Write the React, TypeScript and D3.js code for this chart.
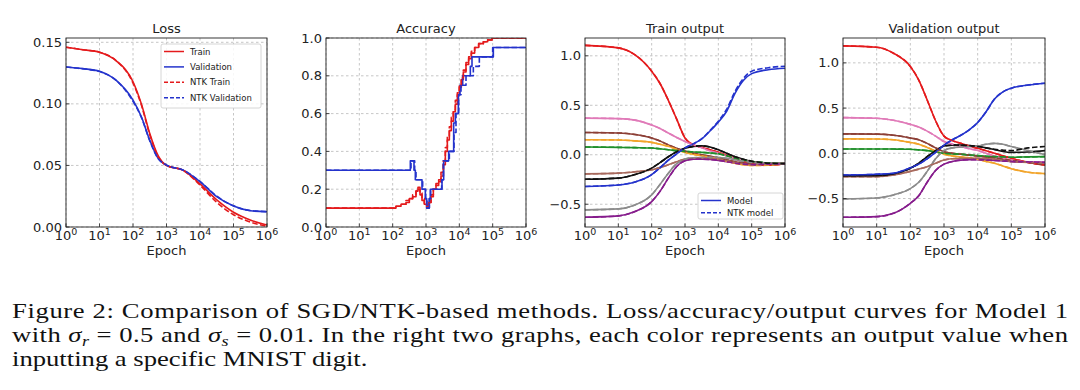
import React from "react";
import * as d3 from "d3";

const W = 1080;
const H = 390;
const SANS = "'DejaVu Sans', sans-serif";
const SERIF = "'Liberation Serif', 'DejaVu Serif', serif";

// ---- Loss panel (epochs as log10 exponents) ----
const lossExp = [0, 0.5, 1, 1.5, 2, 2.25, 2.5, 2.75, 3, 3.5, 4, 4.5, 5, 5.5, 6];
const lossTrain = [0.146, 0.144, 0.142, 0.135, 0.118, 0.1, 0.076, 0.058, 0.05, 0.046, 0.035, 0.022, 0.012, 0.0057, 0.0016];
const lossVal = [0.13, 0.1286, 0.1265, 0.119, 0.103, 0.0895, 0.0705, 0.0557, 0.0503, 0.0462, 0.0368, 0.0246, 0.017, 0.0132, 0.0124];
const lossNtkTrain = [0.146, 0.144, 0.142, 0.135, 0.117, 0.099, 0.075, 0.057, 0.05, 0.046, 0.034, 0.02, 0.01, 0.004, 0.0005];
const lossNtkVal = [0.13, 0.1285, 0.1262, 0.119, 0.102, 0.089, 0.07, 0.0555, 0.0503, 0.0462, 0.037, 0.025, 0.0172, 0.0134, 0.0125];
const lossLegend = ["Train", "Validation", "NTK Train", "NTK Validation"];

// ---- Accuracy panel (step curves) ----
const accTrainExp = [0, 2, 2.1, 2.25, 2.4, 2.5, 2.6, 2.7, 2.76, 2.82, 2.88, 2.95, 3.02, 3.08, 3.15, 3.22, 3.3, 3.38, 3.45, 3.52, 3.58, 3.64, 3.7, 3.76, 3.82, 3.88, 3.94, 4, 4.06, 4.12, 4.2, 4.28, 4.36, 4.46, 4.58, 4.72, 4.85, 4.98, 6];
const accTrain = [0.1, 0.1, 0.11, 0.12, 0.13, 0.15, 0.16, 0.19, 0.21, 0.17, 0.14, 0.12, 0.1, 0.13, 0.17, 0.2, 0.22, 0.24, 0.27, 0.33, 0.4, 0.46, 0.51, 0.56, 0.61, 0.65, 0.7, 0.74, 0.78, 0.82, 0.86, 0.89, 0.92, 0.95, 0.97, 0.98, 0.99, 1.0, 1.0];
const accNtkTrain = [0.1, 0.1, 0.11, 0.12, 0.14, 0.15, 0.17, 0.19, 0.2, 0.18, 0.15, 0.12, 0.11, 0.13, 0.16, 0.2, 0.23, 0.25, 0.29, 0.35, 0.42, 0.48, 0.53, 0.58, 0.62, 0.67, 0.71, 0.75, 0.79, 0.83, 0.87, 0.9, 0.93, 0.95, 0.97, 0.98, 0.99, 1.0, 1.0];
const accValExp = [0, 2.53, 2.64, 2.68, 2.88, 2.98, 3.02, 3.1, 3.13, 3.48, 3.53, 3.68, 3.83, 3.88, 3.97, 4.02, 4.1, 4.33, 4.38, 5.02, 6];
const accVal = [0.3, 0.35, 0.3, 0.25, 0.2, 0.15, 0.1, 0.15, 0.2, 0.25, 0.35, 0.4, 0.55, 0.6, 0.7, 0.75, 0.8, 0.85, 0.9, 0.95, 0.95];
const accNtkValExp = [0, 2.55, 2.66, 2.7, 2.9, 2.99, 3.03, 3.1, 3.14, 3.47, 3.52, 3.7, 3.84, 3.9, 3.98, 4.05, 4.2, 4.42, 4.6, 5.0, 6];
const accNtkVal = [0.3, 0.35, 0.3, 0.25, 0.2, 0.15, 0.1, 0.15, 0.2, 0.25, 0.35, 0.4, 0.5, 0.6, 0.7, 0.75, 0.8, 0.85, 0.9, 0.95, 0.95];

// ---- Output panels ----
const outExp = [0, 1, 1.5, 2, 2.25, 2.5, 2.75, 3, 3.25, 3.5, 3.75, 4, 4.25, 4.5, 4.75, 5, 5.5, 6];

const trRed = [1.105, 1.08, 1.01, 0.845, 0.72, 0.55, 0.36, 0.17, 0.1, 0.075, 0.05, 0.025, -0.005, -0.035, -0.065, -0.09, -0.105, -0.09];
const trBlue = [-0.32, -0.305, -0.275, -0.2, -0.13, -0.055, 0.01, 0.07, 0.11, 0.16, 0.24, 0.33, 0.44, 0.62, 0.75, 0.82, 0.86, 0.875];
const trBlueNtk = [-0.32, -0.305, -0.275, -0.2, -0.13, -0.055, 0.01, 0.07, 0.11, 0.16, 0.245, 0.34, 0.46, 0.64, 0.77, 0.845, 0.88, 0.895];
const trPink = [0.37, 0.365, 0.35, 0.3, 0.265, 0.22, 0.175, 0.135, 0.1, 0.07, 0.04, 0.017, -0.01, -0.035, -0.055, -0.07, -0.085, -0.09];
const trBrown = [0.225, 0.22, 0.205, 0.17, 0.14, 0.1, 0.065, 0.035, 0.015, 0.0, -0.015, -0.03, -0.05, -0.07, -0.08, -0.085, -0.09, -0.09];
const trOrange = [0.152, 0.149, 0.14, 0.125, 0.107, 0.085, 0.055, 0.024, 0.005, -0.01, -0.025, -0.044, -0.065, -0.085, -0.1, -0.108, -0.105, -0.09];
const trGreen = [0.078, 0.075, 0.072, 0.068, 0.06, 0.05, 0.042, 0.034, 0.028, 0.024, 0.018, 0.01, -0.01, -0.034, -0.055, -0.068, -0.083, -0.09];
const trSienna = [-0.193, -0.186, -0.172, -0.152, -0.13, -0.1, -0.07, -0.044, -0.036, -0.034, -0.038, -0.044, -0.06, -0.078, -0.09, -0.1, -0.098, -0.09];
const trBlack = [-0.247, -0.236, -0.2, -0.135, -0.08, -0.02, 0.03, 0.065, 0.085, 0.09, 0.078, 0.05, 0.015, -0.02, -0.045, -0.065, -0.085, -0.09];
const trGray = [-0.557, -0.547, -0.507, -0.405, -0.3, -0.186, -0.09, -0.044, -0.03, -0.027, -0.025, -0.027, -0.035, -0.05, -0.065, -0.078, -0.088, -0.09];
const trPurple = [-0.632, -0.618, -0.574, -0.473, -0.37, -0.236, -0.118, -0.06, -0.045, -0.044, -0.048, -0.057, -0.07, -0.085, -0.095, -0.1, -0.095, -0.09];

const vaRed = [1.188, 1.173, 1.107, 0.96, 0.81, 0.59, 0.36, 0.19, 0.14, 0.11, 0.08, 0.055, 0.028, 0.0, -0.028, -0.055, -0.1, -0.13];
const vaBlue = [-0.24, -0.232, -0.22, -0.16, -0.12, -0.06, 0.01, 0.09, 0.15, 0.2, 0.26, 0.34, 0.46, 0.6, 0.68, 0.72, 0.755, 0.775];
const vaPink = [0.395, 0.387, 0.365, 0.32, 0.29, 0.245, 0.19, 0.13, 0.1, 0.075, 0.05, 0.03, 0.0, -0.03, -0.055, -0.075, -0.095, -0.1];
const vaBrown = [0.215, 0.212, 0.2, 0.17, 0.15, 0.11, 0.06, 0.018, 0.0, -0.01, -0.02, -0.03, -0.04, -0.05, -0.065, -0.08, -0.1, -0.13];
const vaOrange = [0.16, 0.158, 0.15, 0.12, 0.1, 0.065, 0.025, -0.01, -0.03, -0.04, -0.05, -0.065, -0.09, -0.11, -0.14, -0.17, -0.21, -0.225];
const vaGreen = [0.048, 0.048, 0.047, 0.044, 0.038, 0.03, 0.015, 0.0, -0.006, -0.011, -0.018, -0.026, -0.032, -0.037, -0.04, -0.044, -0.04, -0.037];
const vaSienna = [-0.258, -0.258, -0.24, -0.2, -0.175, -0.148, -0.11, -0.074, -0.06, -0.055, -0.055, -0.055, -0.06, -0.066, -0.08, -0.092, -0.1, -0.11];
const vaBlack = [-0.25, -0.247, -0.229, -0.166, -0.11, -0.037, 0.03, 0.08, 0.09, 0.09, 0.085, 0.075, 0.06, 0.04, 0.02, 0.01, 0.015, 0.03];
const vaBlackNtk = [-0.25, -0.247, -0.229, -0.166, -0.11, -0.037, 0.03, 0.08, 0.09, 0.09, 0.085, 0.075, 0.06, 0.045, 0.035, 0.03, 0.06, 0.075];
const vaGray = [-0.505, -0.494, -0.46, -0.39, -0.32, -0.2, -0.06, 0.03, 0.06, 0.07, 0.075, 0.08, 0.1, 0.11, 0.1, 0.075, 0.03, -0.015];
const vaPurple = [-0.708, -0.7, -0.664, -0.553, -0.47, -0.32, -0.19, -0.12, -0.09, -0.075, -0.07, -0.07, -0.075, -0.08, -0.085, -0.09, -0.095, -0.1];
const outLegend = ["Model", "NTK model"];

const C = {
  red: "#e41a1c",
  blue: "#2433cc",
  pink: "#e07ab8",
  brown: "#8c3f36",
  orange: "#f2a42a",
  green: "#1f8f2a",
  sienna: "#a86a5e",
  black: "#111111",
  gray: "#8c8c8c",
  purple: "#861c8c",
};

const decades = [1, 10, 100, 1000, 1e4, 1e5, 1e6];
const decadeLabels = ["0", "1", "2", "3", "4", "5", "6"];

type Series = { ex: number[]; y: number[]; color: string; dashed?: boolean; step?: boolean };
type LegendItem = { label: string; color: string; dashed?: boolean };

const fmtMinus = (s: string) => s.replace("-", "\u2212");

function Panel(props: {
  id: string;
  left: number;
  right: number;
  top: number;
  bottom: number;
  title: string;
  yDomain: [number, number];
  yTicks: number[];
  yFmt: string;
  series: Series[];
  legend?: LegendItem[];
  legendBox?: { x: number; y: number; w: number; h: number; row: number };
}) {
  const { id, left, right, top, bottom, title, yDomain, yTicks, yFmt, series, legend, legendBox } = props;
  const xs = d3.scaleLog().domain([1, 1e6]).range([left, right]);
  const ys = d3.scaleLinear().domain(yDomain).range([bottom, top]);
  const f = d3.format(yFmt);
  const cx = (left + right) / 2;

  return (
    <g>
      <defs>
        <clipPath id={id}>
          <rect x={left} y={top} width={right - left} height={bottom - top} />
        </clipPath>
      </defs>
      {/* grid */}
      <g stroke="#b8b8b8" strokeWidth={0.8} strokeDasharray="2.5,2.5">
        {decades.map((d) => (
          <line key={"gx" + d} x1={xs(d)} x2={xs(d)} y1={top} y2={bottom} />
        ))}
        {yTicks.map((t) => (
          <line key={"gy" + t} x1={left} x2={right} y1={ys(t)} y2={ys(t)} />
        ))}
      </g>
      {/* curves */}
      <g clipPath={`url(#${id})`} fill="none">
        {series.map((s, i) => {
          const pts: [number, number][] = s.ex.map((e, j) => [Math.pow(10, e), s.y[j]]);
          const gen = d3
            .line<[number, number]>()
            .x((d) => xs(d[0]))
            .y((d) => ys(d[1]))
            .curve(s.step ? d3.curveStepAfter : d3.curveMonotoneX);
          return (
            <path
              key={i}
              d={gen(pts) || ""}
              stroke={s.color}
              strokeWidth={1.6}
              strokeDasharray={s.dashed ? "5.5,2.4" : undefined}
              strokeLinejoin="round"
            />
          );
        })}
      </g>
      {/* spines */}
      <rect x={left} y={top} width={right - left} height={bottom - top} fill="none" stroke="#222" strokeWidth={0.9} />
      {/* ticks */}
      <g stroke="#222" strokeWidth={0.8}>
        {decades.map((d) => (
          <line key={"tx" + d} x1={xs(d)} x2={xs(d)} y1={bottom} y2={bottom - 3.5} />
        ))}
        {yTicks.map((t) => (
          <line key={"ty" + t} x1={left} x2={left + 3.5} y1={ys(t)} y2={ys(t)} />
        ))}
      </g>
      <g fontFamily={SANS} fontSize={13} fill="#222">
        {decades.map((d, i) => (
          <text key={"lx" + d} x={xs(d)} y={bottom + 13} textAnchor="middle">
            10
            <tspan dy={-5.5} fontSize={9.5}>
              {decadeLabels[i]}
            </tspan>
          </text>
        ))}
        {yTicks.map((t) => (
          <text key={"ly" + t} x={left - 4} y={ys(t) + 4.6} textAnchor="end">
            {fmtMinus(f(t))}
          </text>
        ))}
        <text x={cx} y={bottom + 27.5} textAnchor="middle">
          Epoch
        </text>
        <text x={cx} y={top - 5.5} textAnchor="middle">
          {title}
        </text>
      </g>
      {legend && legendBox && (
        <g fontFamily={SANS} fontSize={8.5}>
          <rect
            x={legendBox.x}
            y={legendBox.y}
            width={legendBox.w}
            height={legendBox.h}
            rx={2}
            fill="white"
            fillOpacity={0.85}
            stroke="#cccccc"
            strokeWidth={0.8}
          />
          {legend.map((it, i) => {
            const yy = legendBox.y + 7.5 + i * legendBox.row;
            return (
              <g key={it.label}>
                <line
                  x1={legendBox.x + 3}
                  x2={legendBox.x + 23}
                  y1={yy}
                  y2={yy}
                  stroke={it.color}
                  strokeWidth={1.5}
                  strokeDasharray={it.dashed ? "4,2" : undefined}
                />
                <text x={legendBox.x + 29} y={yy + 3} fill="#222">
                  {it.label}
                </text>
              </g>
            );
          })}
        </g>
      )}
    </g>
  );
}

const trainOut: [number[], string][] = [
  [trRed, C.red],
  [trPink, C.pink],
  [trBrown, C.brown],
  [trOrange, C.orange],
  [trGreen, C.green],
  [trSienna, C.sienna],
  [trGray, C.gray],
  [trPurple, C.purple],
  [trBlack, C.black],
  [trBlue, C.blue],
];
const valOut: [number[], string][] = [
  [vaRed, C.red],
  [vaPink, C.pink],
  [vaBrown, C.brown],
  [vaOrange, C.orange],
  [vaGreen, C.green],
  [vaSienna, C.sienna],
  [vaGray, C.gray],
  [vaPurple, C.purple],
  [vaBlack, C.black],
  [vaBlue, C.blue],
];

function outSeries(list: [number[], string][], ntk: Map<number[], number[]>): Series[] {
  const res: Series[] = [];
  list.forEach(([y, c]) => res.push({ ex: outExp, y, color: c }));
  list.forEach(([y, c]) => res.push({ ex: outExp, y: ntk.get(y) || y, color: c, dashed: true }));
  return res;
}

// caption is set in a horizontally widened serif, like the scanned figure
const CAP_SX = 1.3;

export default function App() {
  const lossSeries: Series[] = [
    { ex: lossExp, y: lossTrain, color: C.red },
    { ex: lossExp, y: lossVal, color: C.blue },
    { ex: lossExp, y: lossNtkTrain, color: C.red, dashed: true },
    { ex: lossExp, y: lossNtkVal, color: C.blue, dashed: true },
  ];
  const accSeries: Series[] = [
    { ex: accTrainExp, y: accTrain, color: C.red, step: true },
    { ex: accValExp, y: accVal, color: C.blue, step: true },
    { ex: accTrainExp, y: accNtkTrain, color: C.red, dashed: true, step: true },
    { ex: accNtkValExp, y: accNtkVal, color: C.blue, dashed: true, step: true },
  ];
  const trSeries = outSeries(trainOut, new Map([[trBlue, trBlueNtk]]));
  const vaSeries = outSeries(valOut, new Map([[vaBlack, vaBlackNtk]]));

  return (
    <svg
      width={W}
      height={H}
      viewBox={`0 0 ${W} ${H}`}
      style={{ position: "absolute", left: 0, top: 0, background: "white" }}
    >
      <Panel
        id="c1"
        left={66}
        right={267}
        top={38}
        bottom={227}
        title="Loss"
        yDomain={[0, 0.1535]}
        yTicks={[0, 0.05, 0.1, 0.15]}
        yFmt=".2f"
        series={lossSeries}
        legend={lossLegend.map((l, i) => ({ label: l, color: i % 2 === 0 ? C.red : C.blue, dashed: i >= 2 }))}
        legendBox={{ x: 161, y: 44, w: 100, h: 64, row: 15.4 }}
      />
      <Panel
        id="c2"
        left={326}
        right={526}
        top={38}
        bottom={227}
        title="Accuracy"
        yDomain={[0, 1]}
        yTicks={[0, 0.2, 0.4, 0.6, 0.8, 1.0]}
        yFmt=".1f"
        series={accSeries}
      />
      <Panel
        id="c3"
        left={585}
        right={785}
        top={38}
        bottom={227}
        title="Train output"
        yDomain={[-0.73, 1.18]}
        yTicks={[-0.5, 0, 0.5, 1.0]}
        yFmt=".1f"
        series={trSeries}
        legend={outLegend.map((l, i) => ({ label: l, color: C.blue, dashed: i === 1 }))}
        legendBox={{ x: 698, y: 193, w: 85, h: 26, row: 12.3 }}
      />
      <Panel
        id="c4"
        left={843}
        right={1045}
        top={38}
        bottom={227}
        title="Validation output"
        yDomain={[-0.815, 1.275]}
        yTicks={[-0.5, 0, 0.5, 1.0]}
        yFmt=".1f"
        series={vaSeries}
      />
      <g
        fontFamily={SERIF}
        fontSize={20.5}
        fill="#111"
        transform={`translate(12,0) scale(${CAP_SX},1)`}
      >
        <text x={0} y={318} textLength={1056 / CAP_SX} lengthAdjust="spacing">
          Figure 2: Comparison of SGD/NTK-based methods. Loss/accuracy/output curves for Model 1
        </text>
        <text x={0} y={342} textLength={1056 / CAP_SX} lengthAdjust="spacing">
          with <tspan fontStyle="italic">σ</tspan>
          <tspan fontStyle="italic" fontSize={14} dy={4}>r</tspan>
          <tspan dy={-4}> = 0.5 and </tspan>
          <tspan fontStyle="italic">σ</tspan>
          <tspan fontStyle="italic" fontSize={14} dy={4}>s</tspan>
          <tspan dy={-4}> = 0.01. In the right two graphs, each color represents an output value when</tspan>
        </text>
        <text x={0} y={366}>
          inputting a specific MNIST digit.
        </text>
      </g>
    </svg>
  );
}
